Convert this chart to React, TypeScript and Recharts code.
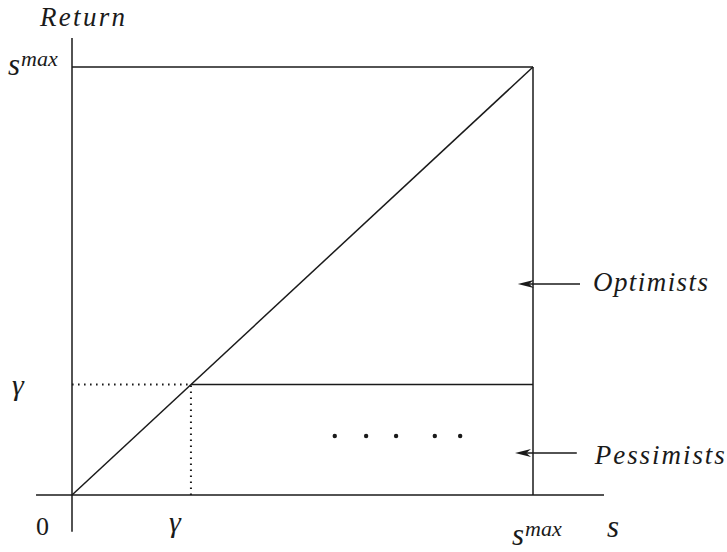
import React from "react";
import {
  ComposedChart,
  XAxis,
  YAxis,
  ReferenceLine,
  ReferenceDot,
  Scatter,
} from "recharts";

// ---- data (in units of s^max) ----
const S_MAX = 1;
const GAMMA = 0.258;
const Y_AXIS_TOP = 1.068;
const Y_AXIS_BOTTOM = -0.086;
const X_AXIS_LEFT = -0.078;
const X_AXIS_RIGHT = 1.154;
const dotXs = [0.57, 0.638, 0.703, 0.787, 0.842];
const dotY = 0.138;
const arrowLabels = ["Optimists", "Pessimists"];
const arrowYs = [0.493, 0.098];
const arrowFrom = [1.102, 1.095];
const arrowTo = [0.967, 0.961];

// ---- layout ----
const W = 727;
const H = 552;
const X_DOMAIN: [number, number] = [-72 / 461, 655 / 461];
const Y_DOMAIN: [number, number] = [-57 / 428, 495 / 428];
const INK = "#1a1a1a";
const FONT = "Times New Roman";

const dotData = dotXs.map((x) => ({ x, y: dotY }));

const lineProps = { stroke: INK, strokeWidth: 1.5 };
const dotted = { stroke: INK, strokeWidth: 2, strokeDasharray: "1.6 4.4" };

const txt = (
  dx: number,
  dy: number,
  content: React.ReactNode,
  opts: { italic?: boolean; size?: number; anchor?: string; len?: number } = {}
) =>
  (p: any) => (
    <text
      x={p.cx + dx}
      y={p.cy + dy}
      style={{
        fontFamily: FONT,
        fontStyle: opts.italic === false ? "normal" : "italic",
        fontSize: opts.size ?? 27,
      }}
      fill={INK}
      textAnchor={opts.anchor ?? "start"}
      textLength={opts.len}
      lengthAdjust={opts.len ? "spacing" : undefined}
    >
      {content}
    </text>
  );

const sMax = (
  <>
    <tspan style={{ fontSize: 31 }}>s</tspan>
    <tspan style={{ fontSize: 22 }} dx={1} dy={-9}>
      max
    </tspan>
  </>
);

const arrowShape = (p: any) => {
  const { x1, y1, x2, y2 } = p;
  const dir = x2 < x1 ? 1 : -1;
  const head = 16;
  return (
    <g>
      <line x1={x1} y1={y1} x2={x2 + dir * head * 0.6} y2={y2} stroke={INK} strokeWidth={1.5} />
      <polygon
        points={`${x2},${y2} ${x2 + dir * head},${y2 - 4} ${x2 + dir * head * 0.7},${y2} ${x2 + dir * head},${y2 + 4}`}
        fill={INK}
      />
    </g>
  );
};

export default function App() {
  return (
    <div style={{ width: W, height: H, fontFamily: FONT }}>
      <style>{`body{margin:0}`}</style>
      <ComposedChart width={W} height={H} margin={{ top: 0, right: 0, bottom: 0, left: 0 }}>
        <XAxis type="number" dataKey="x" domain={X_DOMAIN} allowDataOverflow hide />
        <YAxis type="number" dataKey="y" domain={Y_DOMAIN} allowDataOverflow hide />

        {/* axes */}
        <ReferenceLine segment={[{ x: 0, y: Y_AXIS_BOTTOM }, { x: 0, y: Y_AXIS_TOP }]} {...lineProps} />
        <ReferenceLine segment={[{ x: X_AXIS_LEFT, y: 0 }, { x: X_AXIS_RIGHT, y: 0 }]} {...lineProps} />

        {/* box and diagonal */}
        <ReferenceLine segment={[{ x: 0, y: S_MAX }, { x: S_MAX, y: S_MAX }]} {...lineProps} />
        <ReferenceLine segment={[{ x: S_MAX, y: 0 }, { x: S_MAX, y: S_MAX }]} {...lineProps} />
        <ReferenceLine segment={[{ x: 0, y: 0 }, { x: S_MAX, y: S_MAX }]} {...lineProps} />

        {/* gamma */}
        <ReferenceLine segment={[{ x: GAMMA, y: GAMMA }, { x: S_MAX, y: GAMMA }]} {...lineProps} />
        <ReferenceLine segment={[{ x: 0, y: GAMMA }, { x: GAMMA, y: GAMMA }]} {...dotted} />
        <ReferenceLine segment={[{ x: GAMMA, y: 0 }, { x: GAMMA, y: GAMMA }]} {...dotted} />

        {/* arrows */}
        {arrowLabels.map((l, i) => (
          <ReferenceLine
            key={l}
            segment={[{ x: arrowFrom[i], y: arrowYs[i] }, { x: arrowTo[i], y: arrowYs[i] }]}
            shape={arrowShape}
          />
        ))}

        <Scatter
          data={dotData}
          dataKey="y"
          isAnimationActive={false}
          shape={(p: any) => <circle cx={p.cx} cy={p.cy} r={2.2} fill={INK} />}
        />

        {/* labels */}
        <ReferenceDot x={0} y={Y_AXIS_TOP} r={0} shape={txt(-32, -12, "Return", { len: 85 })} />
        <ReferenceDot x={0} y={S_MAX} r={0} shape={txt(-64, 8, sMax)} />
        <ReferenceDot x={0} y={GAMMA} r={0} shape={txt(-60, 10, "γ", { size: 30 })} />
        <ReferenceDot x={0} y={0} r={0} shape={txt(-36, 40, "0", { italic: false, size: 26 })} />
        <ReferenceDot x={GAMMA} y={0} r={0} shape={txt(-16, 37, "γ", { anchor: "middle", size: 30 })} />
        <ReferenceDot x={S_MAX} y={0} r={0} shape={txt(-21, 50, sMax)} />
        <ReferenceDot x={X_AXIS_RIGHT} y={0} r={0} shape={txt(3, 42, "s", { size: 31 })} />
        {arrowLabels.map((l, i) => (
          <ReferenceDot
            key={l}
            x={arrowFrom[i]}
            y={arrowYs[i]}
            r={0}
            shape={txt(i === 0 ? 13 : 18, i === 0 ? 7 : 11, l, { len: i === 0 ? 115 : 130 })}
          />
        ))}
      </ComposedChart>
    </div>
  );
}
